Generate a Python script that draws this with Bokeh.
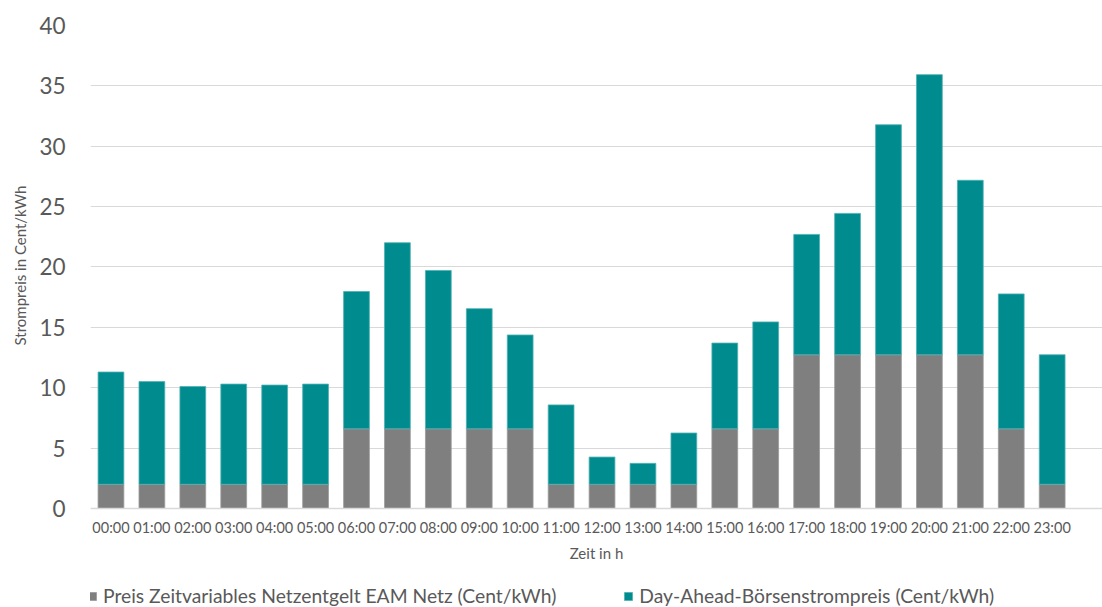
from bokeh.plotting import figure
from bokeh.models import ColumnDataSource, FixedTicker, Legend, LegendItem, Range1d, Title
from bokeh.embed import file_html
from bokeh.resources import INLINE

hours = ["00:00", "01:00", "02:00", "03:00", "04:00", "05:00", "06:00", "07:00",
         "08:00", "09:00", "10:00", "11:00", "12:00", "13:00", "14:00", "15:00",
         "16:00", "17:00", "18:00", "19:00", "20:00", "21:00", "22:00", "23:00"]
netzentgelt = [2.0, 2.0, 2.0, 2.0, 2.0, 2.0, 6.6, 6.6, 6.6, 6.6, 6.6, 2.0,
               2.0, 2.0, 2.0, 6.6, 6.6, 12.73, 12.73, 12.73, 12.73, 12.73, 6.6, 2.0]
boerse = [9.30, 8.51, 8.10, 8.30, 8.22, 8.30, 11.37, 15.41, 13.11, 9.95, 7.77, 6.58,
          2.26, 1.74, 4.25, 7.10, 8.85, 9.97, 11.71, 19.05, 23.20, 14.45, 11.17, 10.73]
series_names = ["Preis Zeitvariables Netzentgelt EAM Netz (Cent/kWh)",
                "Day-Ahead-Börsenstrompreis (Cent/kWh)"]
y_ticks = [0, 5, 10, 15, 20, 25, 30, 35, 40]

GRAY = "#7F7F7F"
TEAL = "#008C8F"
TXT = "#595959"
FONT = "Lato"

x = list(range(len(hours)))
src = ColumnDataSource(dict(x=x, netz=netzentgelt, boerse=boerse))

# frame extends below zero so the axis texts and legend sit inside it
p = figure(width=1102, height=607, x_range=Range1d(-0.5, 24.23), y_range=Range1d(-8.2, 40),
           output_backend="svg", toolbar_location=None,
           min_border_left=88, min_border_top=25, min_border_right=0, min_border_bottom=0)

rs = p.vbar_stack(["netz", "boerse"], x="x", width=0.63, source=src,
                  fill_color=[GRAY, TEAL], line_color=["#9a9a9a", "#4fb0b3"], line_width=0.8)

p.outline_line_color = None
p.background_fill_color = "white"
p.xgrid.grid_line_color = None
p.ygrid.grid_line_color = "#D9D9D9"
p.ygrid.grid_line_width = 1.2
p.ygrid.ticker = FixedTicker(ticks=y_ticks)

p.yaxis.ticker = FixedTicker(ticks=y_ticks)
p.yaxis.axis_line_color = None
p.yaxis.major_tick_line_color = None
p.yaxis.minor_tick_line_color = None
p.yaxis.major_label_text_font = FONT
p.yaxis.major_label_text_font_size = "22.5px"
p.yaxis.major_label_text_color = TXT
p.yaxis.major_label_standoff = 19

ytitle = Title(text="Strompreis in Cent/kWh", align="left", offset=262, standoff=16,
               text_font=FONT, text_font_size="15px", text_font_style="normal",
               text_color=TXT)
p.add_layout(ytitle, "left")

p.xaxis.fixed_location = 0
p.xaxis.ticker = FixedTicker(ticks=x)
p.xaxis.major_label_overrides = {i: h for i, h in enumerate(hours)}
p.xaxis.axis_line_color = "#D9D9D9"
p.xaxis.axis_line_width = 1.5
p.xaxis.major_tick_line_color = None
p.xaxis.minor_tick_line_color = None
p.xaxis.major_label_text_font = FONT
p.xaxis.major_label_text_font_size = "14.5px"
p.xaxis.major_label_text_color = TXT
p.xaxis.major_label_standoff = 5
p.xaxis.axis_label = "Zeit in h"
p.xaxis.axis_label_text_font = FONT
p.xaxis.axis_label_text_font_size = "15px"
p.xaxis.axis_label_text_font_style = "normal"
p.xaxis.axis_label_text_color = TXT
p.xaxis.axis_label_standoff = 4

legend = Legend(items=[LegendItem(label=series_names[0], renderers=[rs[0]]),
                       LegendItem(label=series_names[1], renderers=[rs[1]])],
                orientation="horizontal", location=(-3, 0),
                glyph_width=10, glyph_height=10, label_standoff=6, spacing=67,
                padding=0, margin=0, border_line_color=None, background_fill_alpha=0,
                label_text_font=FONT, label_text_font_size="19.3px", label_text_color=TXT)
p.add_layout(legend, "center")

open("out.html", "w").write(file_html(p, INLINE))
